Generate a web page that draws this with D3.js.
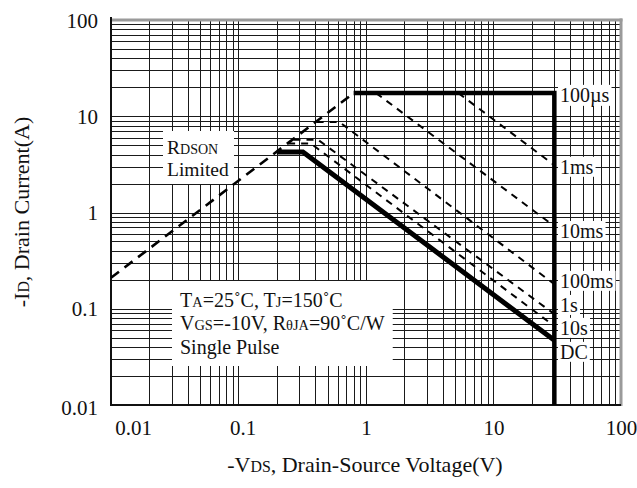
<!DOCTYPE html>
<html>
<head>
<meta charset="utf-8">
<script src="https://cdn.jsdelivr.net/npm/d3@7"></script>
<style>
body { margin: 0; background: #fff; }
text { font-family: "Liberation Serif", "Times New Roman", serif; fill: #111; }
</style>
</head>
<body>
<svg id="chart" width="637" height="488"></svg>
<script>
// axis ticks
var xTicks = [0.01, 0.1, 1, 10, 100];
var xTickLabels = ["0.01", "0.1", "1", "10", "100"];
var yTicks = [0.01, 0.1, 1, 10, 100];
var yTickLabels = ["0.01", "0.1", "1", "10", "100"];

// RDS(on) limit, [V, A]
var rdsonLimit = [[0.01, 0.21], [0.8, 17.4]];

// SOA curves, [V, A]
var curve100us = [[0.8, 17.4], [30, 17.4], [30, 0.01]];
var curve1ms = [[5.3, 17.4], [30, 3.1]];
var curve10ms = [[1.2, 17.4], [30, 0.72]];
var curve100ms = [[0.41, 8.7], [0.62, 8.7], [30, 0.18]];
var curve1s = [[0.27, 5.7], [0.42, 5.7], [30, 0.088]];
var curve10s = [[0.245, 5.2], [0.37, 5.2], [30, 0.066]];
var curveDC = [[0.2, 4.26], [0.32, 4.26], [30, 0.047]];

var curveNames = ["100µs", "1ms", "10ms", "100ms", "1s", "10s", "DC"];
// where each name sits on the right (A)
var curveLabelY = [16.6, 2.97, 0.64, 0.194, 0.109, 0.063, 0.0355];

var svg = d3.select('#chart');

var x = d3.scaleLog().domain([0.01, 100]).range([111, 621]);
var y = d3.scaleLog().domain([0.01, 100]).range([405, 20]);

function crisp(v) { return Math.round(v) + 0.5; }

// log grid 1..9 per decade
var gridVals = [];
for (var d = -2; d <= 1; ++d) {
    for (var k = 1; k <= 9; ++k) gridVals.push(+(k * Math.pow(10, d)).toPrecision(3));
}
gridVals.push(100);

var grid = svg.append('g').attr('shape-rendering', 'crispEdges');
grid.selectAll('line.v').data(gridVals).join('line')
    .attr('class', 'v')
    .attr('x1', function(d) { return crisp(x(d)); })
    .attr('x2', function(d) { return crisp(x(d)); })
    .attr('y1', 20).attr('y2', 405)
    .attr('stroke', '#1a1a1a').attr('stroke-width', 1);
grid.selectAll('line.h').data(gridVals).join('line')
    .attr('class', 'h')
    .attr('y1', function(d) { return crisp(y(d)); })
    .attr('y2', function(d) { return crisp(y(d)); })
    .attr('x1', 111).attr('x2', 621)
    .attr('stroke', '#1a1a1a').attr('stroke-width', 1);

// frame: grey top/right, black left/bottom
svg.append('line').attr('x1', 110).attr('x2', 622.5).attr('y1', 20).attr('y2', 20)
    .attr('stroke', '#9a9a9a').attr('stroke-width', 3);
svg.append('line').attr('x1', 621).attr('x2', 621).attr('y1', 18.5).attr('y2', 406)
    .attr('stroke', '#9a9a9a').attr('stroke-width', 3);
svg.append('line').attr('x1', 111).attr('x2', 111).attr('y1', 17).attr('y2', 406)
    .attr('stroke', '#111').attr('stroke-width', 2);
svg.append('line').attr('x1', 110).attr('x2', 621).attr('y1', 405).attr('y2', 405)
    .attr('stroke', '#111').attr('stroke-width', 2);

// text helper: segments of [string, small]
function richText(g, px, py, parts, size, anchor) {
    var t = g.append('text').attr('x', px).attr('y', py)
        .attr('font-size', size).attr('text-anchor', anchor || 'start');
    parts.forEach(function(p) {
        t.append('tspan').text(p[0]).attr('font-size', p[1] ? size * 0.72 : size);
    });
    return t;
}

var boxLayer = svg.append('g');
var lineLayer = svg.append('g');
var textLayer = svg.append('g');

function whiteBox(node, padX, padTop, padBottom) {
    var b = node.getBBox();
    boxLayer.append('rect')
        .attr('x', b.x - padX).attr('y', b.y - padTop)
        .attr('width', b.width + 2 * padX).attr('height', b.height + padTop + padBottom)
        .attr('fill', '#fff');
}

// curves
var line = d3.line().x(function(d) { return x(d[0]); }).y(function(d) { return y(d[1]); });

lineLayer.append('path').datum(rdsonLimit).attr('d', line)
    .attr('fill', 'none').attr('stroke', '#000').attr('stroke-width', 2.6)
    .attr('stroke-dasharray', '10,7');

var dashed = [curve1ms, curve10ms, curve100ms, curve1s, curve10s];
lineLayer.selectAll('path.dash').data(dashed).join('path')
    .attr('class', 'dash').attr('d', line)
    .attr('fill', 'none').attr('stroke', '#000').attr('stroke-width', 2)
    .attr('stroke-dasharray', '7,6');

lineLayer.selectAll('path.solid').data([curve100us, curveDC]).join('path')
    .attr('class', 'solid').attr('d', line)
    .attr('fill', 'none').attr('stroke', '#000')
    .attr('stroke-width', function(d, i) { return i === 0 ? 4.5 : 5; })
    .attr('stroke-linejoin', 'miter');

// curve names on the right
curveNames.forEach(function(n, i) {
    var t = textLayer.append('text').attr('x', 560).attr('y', y(curveLabelY[i]))
        .attr('dy', '0.34em').attr('font-size', 20).text(n);
    whiteBox(t.node(), 2, -1, -1);
});

// RDSON box
var r1 = richText(textLayer, 167, 154, [["R", false], ["DSON", true]], 19.5);
var r2 = richText(textLayer, 167, 176, [["Limited", false]], 19.5);
(function() {
    var a = r1.node().getBBox(), b = r2.node().getBBox();
    boxLayer.append('rect').attr('x', 163).attr('y', 131)
        .attr('width', Math.max(a.width, b.width) + 9).attr('height', 53)
        .attr('fill', '#fff');
})();

// conditions box
var c1 = richText(textLayer, 180, 307, [["T", false], ["A", true], ["=25˚C, T", false], ["J", true], ["=150˚C", false]], 20);
var c2 = richText(textLayer, 180, 330, [["V", false], ["GS", true], ["=-10V, R", false], ["θJA", true], ["=90˚C/W", false]], 20);
var c3 = richText(textLayer, 180, 354, [["Single Pulse", false]], 20);
(function() {
    var a = c1.node().getBBox(), b = c2.node().getBBox(), c = c3.node().getBBox();
    var w = Math.max(a.width, b.width, c.width);
    boxLayer.append('rect').attr('x', 172).attr('y', 281)
        .attr('width', w + 16).attr('height', 85).attr('fill', '#fff');
})();

// tick labels via axes
var xAxis = svg.append('g').attr('transform', 'translate(0,405)')
    .call(d3.axisBottom(x).tickValues(xTicks).tickSize(0)
        .tickFormat(function(d, i) { return xTickLabels[i]; }));
xAxis.select('.domain').remove();
xAxis.selectAll('text').attr('font-size', 21).attr('font-family', null).attr('fill', '#111')
    .attr('y', 15)
    .attr('dx', function(d, i) { return i === 0 ? 22 : (i === 1 ? 4 : 0); });

var yAxis = svg.append('g').attr('transform', 'translate(111,0)')
    .call(d3.axisLeft(y).tickValues(yTicks).tickSize(0)
        .tickFormat(function(d, i) { return yTickLabels[i]; }));
yAxis.select('.domain').remove();
yAxis.selectAll('text').attr('font-size', 21).attr('font-family', null).attr('fill', '#111')
    .attr('x', -13)
    .attr('dy', function(d, i) { return i === 0 ? '0.45em' : '0.34em'; });

// axis titles
richText(svg, 365, 472, [["-V", false], ["DS", true], [", Drain-Source Voltage(V)", false]], 22, 'middle');
var yt = richText(svg, 0, 0, [["-I", false], ["D", true], [", Drain Current(A)", false]], 22, 'middle');
yt.attr('transform', 'translate(29,212) rotate(-90)');
</script>
</body>
</html>
